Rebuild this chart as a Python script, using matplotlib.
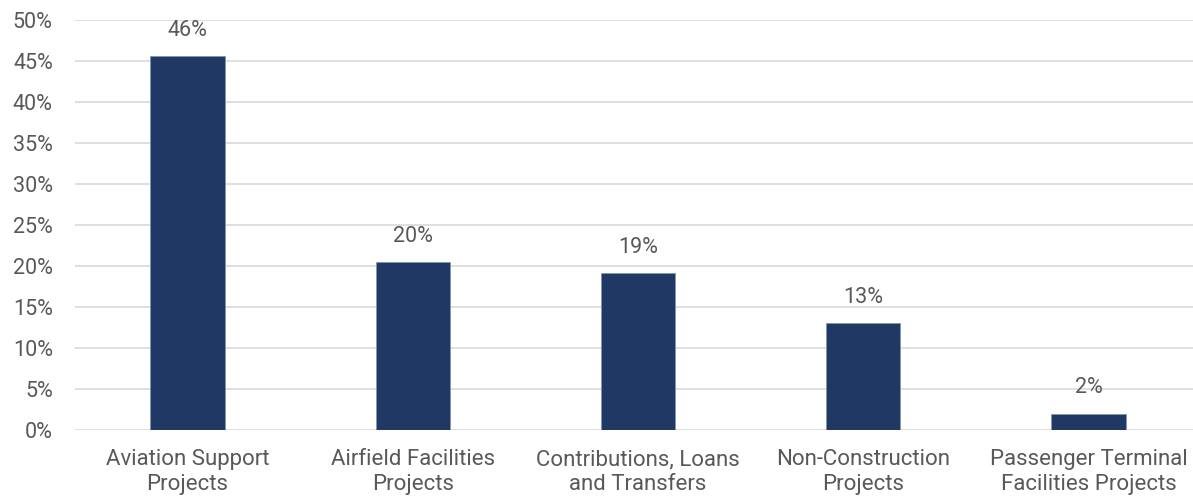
import matplotlib
matplotlib.use("Agg")
import matplotlib.pyplot as plt
from matplotlib.ticker import FuncFormatter

categories = [
    "Aviation Support\nProjects",
    "Airfield Facilities\nProjects",
    "Contributions, Loans\nand Transfers",
    "Non-Construction\nProjects",
    "Passenger Terminal\nFacilities Projects",
]
shares = [45.6, 20.5, 19.1, 13.0, 2.0]
share_labels = ["46%", "20%", "19%", "13%", "2%"]
y_ticks = [0, 5, 10, 15, 20, 25, 30, 35, 40, 45, 50]

plt.rcParams["font.family"] = ["Roboto", "DejaVu Sans"]

fig = plt.figure(figsize=(11.93, 4.97), dpi=100)
ax = fig.add_axes([75 / 1193, 67 / 497, 1126 / 1193, 410 / 497])

x = range(len(categories))
bars = ax.bar(x, shares, width=0.33, color="#203864", edgecolor="#8497b0",
              linewidth=0.6, zorder=3)
for bar, lab in zip(bars, share_labels):
    ax.annotate(lab, (bar.get_x() + bar.get_width() / 2, bar.get_height()),
                xytext=(0, 11), textcoords="offset points", ha="center",
                va="bottom", fontsize=15.5, color="#595959")

ax.set_xlim(-0.5, len(categories) - 0.5)
ax.set_ylim(0, 50)
ax.set_yticks(y_ticks)
ax.yaxis.set_major_formatter(FuncFormatter(lambda v, _: f"{v:.0f}%"))
ax.set_xticks(list(x))
ax.set_xticklabels(categories, linespacing=1.25)
ax.tick_params(axis="both", length=0, colors="#595959")
ax.tick_params(axis="x", pad=14, labelsize=16)
ax.tick_params(axis="y", pad=16, labelsize=15.5)
ax.grid(axis="y", color="#d9d9d9", linewidth=1.2, zorder=0)
for s in ax.spines.values():
    s.set_visible(False)

fig.savefig("out.png", dpi=100)
